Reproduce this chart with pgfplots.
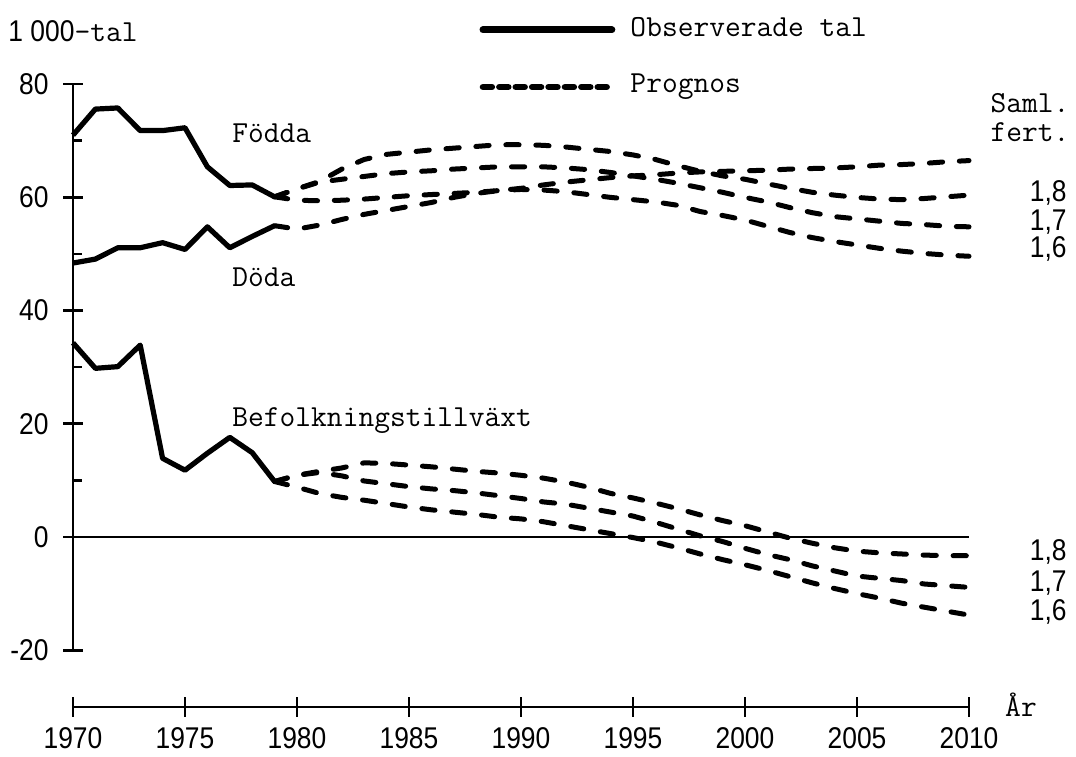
\documentclass[border=0pt]{standalone}
\usepackage{fontspec}
\usepackage{pgfplots}
\pgfplotsset{compat=1.18}
\newfontfamily\numfont[FakeStretch=0.88]{Liberation Sans}
\newcommand\numf{\fontsize{15}{18}\numfont}
\newcommand\txtf{\fontsize{15.3}{18}\ttfamily}

\pgfplotstableread{
year fodda doda tillv
1970 71.0 48.4 34.3
1971 75.6 49.1 29.8
1972 75.8 51.1 30.1
1973 71.8 51.1 33.9
1974 71.8 52.0 13.9
1975 72.3 50.8 11.8
1976 65.4 54.8 14.8
1977 62.1 51.1 17.6
1978 62.2 53.1 14.9
1979 60.1 55.0 9.8
}\observed

\pgfplotstableread{
year f18  f17  f16  doda g18  g17  g16
1979 60.1 60.1 60.1 55.0 9.8  9.8  9.8
1980 61.5 61.5 59.5 54.4 10.9 10.9 8.8
1981 62.8 62.7 59.4 55.1 11.6 11.4 7.7
1982 65.0 63.2 59.5 56.1 12.2 10.8 7.0
1983 66.7 63.7 59.7 57.0 13.1 9.9  6.5
1984 67.6 64.2 60.0 57.7 13.0 9.4  5.9
1985 68.0 64.5 60.3 58.4 12.7 8.9  5.3
1986 68.4 64.7 60.5 59.1 12.4 8.5  4.8
1987 68.7 65.0 60.7 60.0 12.0 8.2  4.4
1988 69.0 65.2 60.9 60.7 11.6 7.8  4.0
1989 69.3 65.4 61.2 61.2 11.3 7.3  3.5
1990 69.3 65.4 61.4 61.6 10.9 6.8  3.2
1991 69.2 65.4 61.3 62.2 10.4 6.2  2.7
1992 68.9 65.2 61.0 62.7 9.7  5.8  2.0
1993 68.5 64.9 60.5 63.1 8.8  5.1  1.3
1994 68.1 64.4 60.0 63.5 7.7  4.4  0.6
1995 67.5 63.8 59.6 63.8 6.9  3.7  -0.1
1996 66.7 63.2 59.2 64.0 6.0  2.6  -0.9
1997 65.6 62.5 58.6 64.3 5.0  1.4  -1.9
1998 64.6 61.7 57.5 64.5 3.9  0.2  -3.0
1999 63.8 60.9 56.8 64.6 2.9  -0.8 -4.0
2000 63.2 60.0 56.0 64.7 2.0  -2.0 -4.9
2001 62.4 59.2 54.9 64.8 0.9  -3.1 -5.9
2002 61.6 58.2 53.8 65.0 -0.2 -4.0 -7.0
2003 60.9 57.3 52.9 65.1 -1.1 -5.1 -8.1
2004 60.4 56.6 52.2 65.2 -1.9 -6.0 -9.1
2005 60.0 56.2 51.6 65.4 -2.5 -6.9 -10.0
2006 59.7 55.8 51.0 65.7 -2.8 -7.3 -10.8
2007 59.6 55.4 50.5 65.8 -3.0 -7.7 -11.7
2008 59.8 55.2 50.1 66.0 -3.2 -8.3 -12.4
2009 60.1 54.9 49.8 66.3 -3.3 -8.6 -13.1
2010 60.4 54.8 49.6 66.5 -3.3 -8.9 -13.8
}\prognos

\begin{document}
\begin{tikzpicture}[x=1pt,y=1pt]
\useasboundingbox (0,0) rectangle (538,378);
\begin{axis}[
  at={(36.5pt,24.6pt)}, anchor=south west,
  width=448pt, height=311.3pt, scale only axis,
  xmin=1970, xmax=2010, ymin=-30, ymax=80,
  axis x line=bottom, axis y line=left,
  axis line style={-, line width=1.3pt},
  y axis line style={draw=none},
  clip=false,
  xtick={1970,1975,...,2010},
  ytick={-20,0,...,80},
  extra y ticks={10,30,50,70},
  extra y tick labels={},
  extra y tick style={tick align=inside, major tick length=4.5pt},
  tick align=center, major tick length=10pt,
  tick style={black, line width=1.3pt},
  /pgf/number format/1000 sep={},
  /pgf/number format/assume math mode=true,
  xticklabel style={font=\numf, anchor=north, inner sep=0pt, yshift=-5pt},
  yticklabel style={font=\numf, anchor=east, inner sep=0pt, xshift=-7pt},
  obs/.style={black, line width=2.6pt, line join=round},
  prg/.style={black, line width=2.5pt, line cap=round, line join=round, dash pattern=on 6.6pt off 8.4pt},
]
\draw[line width=1.3pt] (axis cs:1970,-20) -- (axis cs:1970,80);
\addplot[black, line width=0.8pt] coordinates {(1970,0) (2010,0)};

\addplot[obs] table[x=year, y=fodda] {\observed};
\addplot[obs] table[x=year, y=doda] {\observed};
\addplot[obs] table[x=year, y=tillv] {\observed};

\addplot[prg] table[x=year, y=f18] {\prognos};
\addplot[prg] table[x=year, y=f17] {\prognos};
\addplot[prg] table[x=year, y=f16] {\prognos};
\addplot[prg] table[x=year, y=doda] {\prognos};
\addplot[prg] table[x=year, y=g18] {\prognos};
\addplot[prg] table[x=year, y=g17] {\prognos};
\addplot[prg] table[x=year, y=g16] {\prognos};

% legend
\addplot[black, line width=3.4pt, line cap=round] coordinates {(1988.3,89.6) (1994.06,89.6)};
\addplot[black, line width=3.2pt, line cap=round, dash pattern=on 4.5pt off 3.7pt] coordinates {(1988.3,79.5) (1994.06,79.5)};
\node[anchor=base west, inner sep=0pt, font=\txtf] at (axis cs:1994.87,88.5) {Observerade tal};
\node[anchor=base west, inner sep=0pt, font=\txtf] at (axis cs:1994.87,78.6) {Prognos};

\node[anchor=base west, inner sep=0pt] at (axis cs:1967.1,87.6) {{\numf 1 000}{\txtf -tal}};

\node[anchor=base west, inner sep=0pt, font=\txtf] at (axis cs:1977.1,69.7) {Födda};
\node[anchor=base west, inner sep=0pt, font=\txtf] at (axis cs:1977.1,44.2) {Döda};
\node[anchor=base west, inner sep=0pt, font=\txtf] at (axis cs:1977.1,19.6) {Befolkningstillväxt};

\node[anchor=base west, inner sep=0pt, font=\txtf] at (axis cs:2010.95,75.0) {Saml.};
\node[anchor=base west, inner sep=0pt, font=\txtf] at (axis cs:2010.95,69.8) {fert.};

\node[anchor=west, inner sep=0pt, font=\numf] at (axis cs:2012.7,60.8) {1,8};
\node[anchor=west, inner sep=0pt, font=\numf] at (axis cs:2012.7,55.7) {1,7};
\node[anchor=west, inner sep=0pt, font=\numf] at (axis cs:2012.7,50.9) {1,6};
\node[anchor=west, inner sep=0pt, font=\numf] at (axis cs:2012.7,-2.7) {1,8};
\node[anchor=west, inner sep=0pt, font=\numf] at (axis cs:2012.7,-8.1) {1,7};
\node[anchor=west, inner sep=0pt, font=\numf] at (axis cs:2012.7,-13.3) {1,6};

\node[anchor=base west, inner sep=0pt, font=\txtf] at (axis cs:2011.6,-31.8) {År};
\end{axis}
\end{tikzpicture}
\end{document}
